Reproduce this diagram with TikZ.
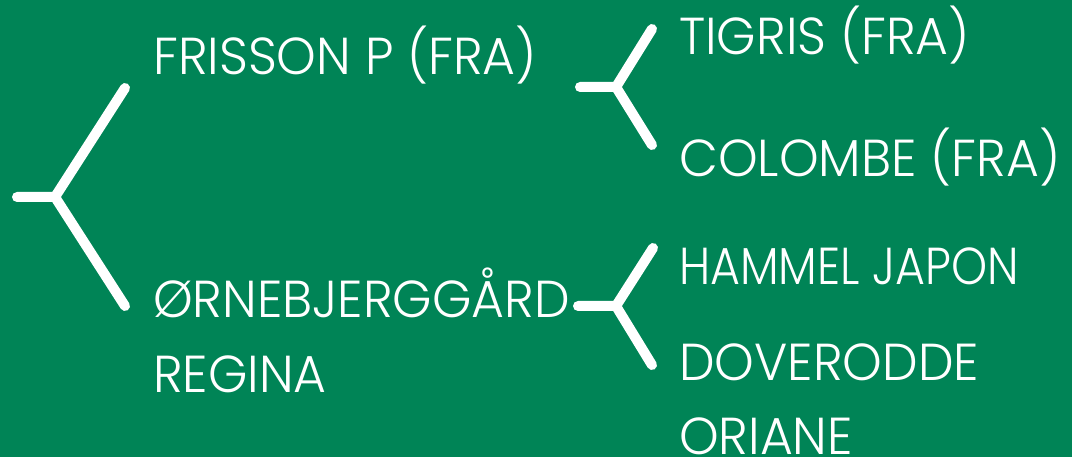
\documentclass[tikz,border=0pt]{standalone}
\usepackage{fontspec}
\setmainfont{Poppins}[UprightFont=*-Light,FakeStretch=0.97]
\definecolor{bggreen}{HTML}{008456}
\begin{document}
\begin{tikzpicture}[x=1pt,y=-1pt,
  lbl/.style={anchor=base west,inner sep=0pt,text=white,font=\fontsize{52}{72}\selectfont},
  fork/.style={draw=white,line width=10pt,line cap=round,line join=round}]
\fill[bggreen] (0,0) rectangle (1072,457);
\useasboundingbox (0,0) rectangle (1072,457);
% text
\node[lbl] (frisson) at (153,75) {FRISSON P (FRA)};
\node[lbl] (orne) at (153,318) {ØRNEBJERGGÅRD};
\node[lbl] (regina) at (153,392) {REGINA};
\node[lbl] (tigris) at (679,55) {TIGRIS (FRA)};
\node[lbl] (colombe) at (679,177) {COLOMBE (FRA)};
\node[lbl] (hammel) at (679,285) {\scalebox{0.91}[1]{HAMMEL JAPON}};
\node[lbl] (dove) at (679,381) {DOVERODDE};
\node[lbl] (oriane) at (679,454) {ORIANE};
% fork points
\coordinate (r0) at (17,197);
\coordinate (rj) at (55,197);
\coordinate (ru) at (125,88);
\coordinate (rl) at (125,306);
\coordinate (a0) at (580,87);
\coordinate (aj) at (616,87);
\coordinate (au) at (652,29);
\coordinate (al) at (652,145);
\coordinate (b0) at (578,306);
\coordinate (bj) at (616,306);
\coordinate (bu) at (653,248);
\coordinate (bl) at (652,365);
\draw[fork] (r0) -- (rj) -- (ru);
\draw[fork] (rj) -- (rl);
\draw[fork] (a0) -- (aj) -- (au);
\draw[fork] (aj) -- (al);
\draw[fork] (b0) -- (bj) -- (bu);
\draw[fork] (bj) -- (bl);
\end{tikzpicture}
\end{document}
